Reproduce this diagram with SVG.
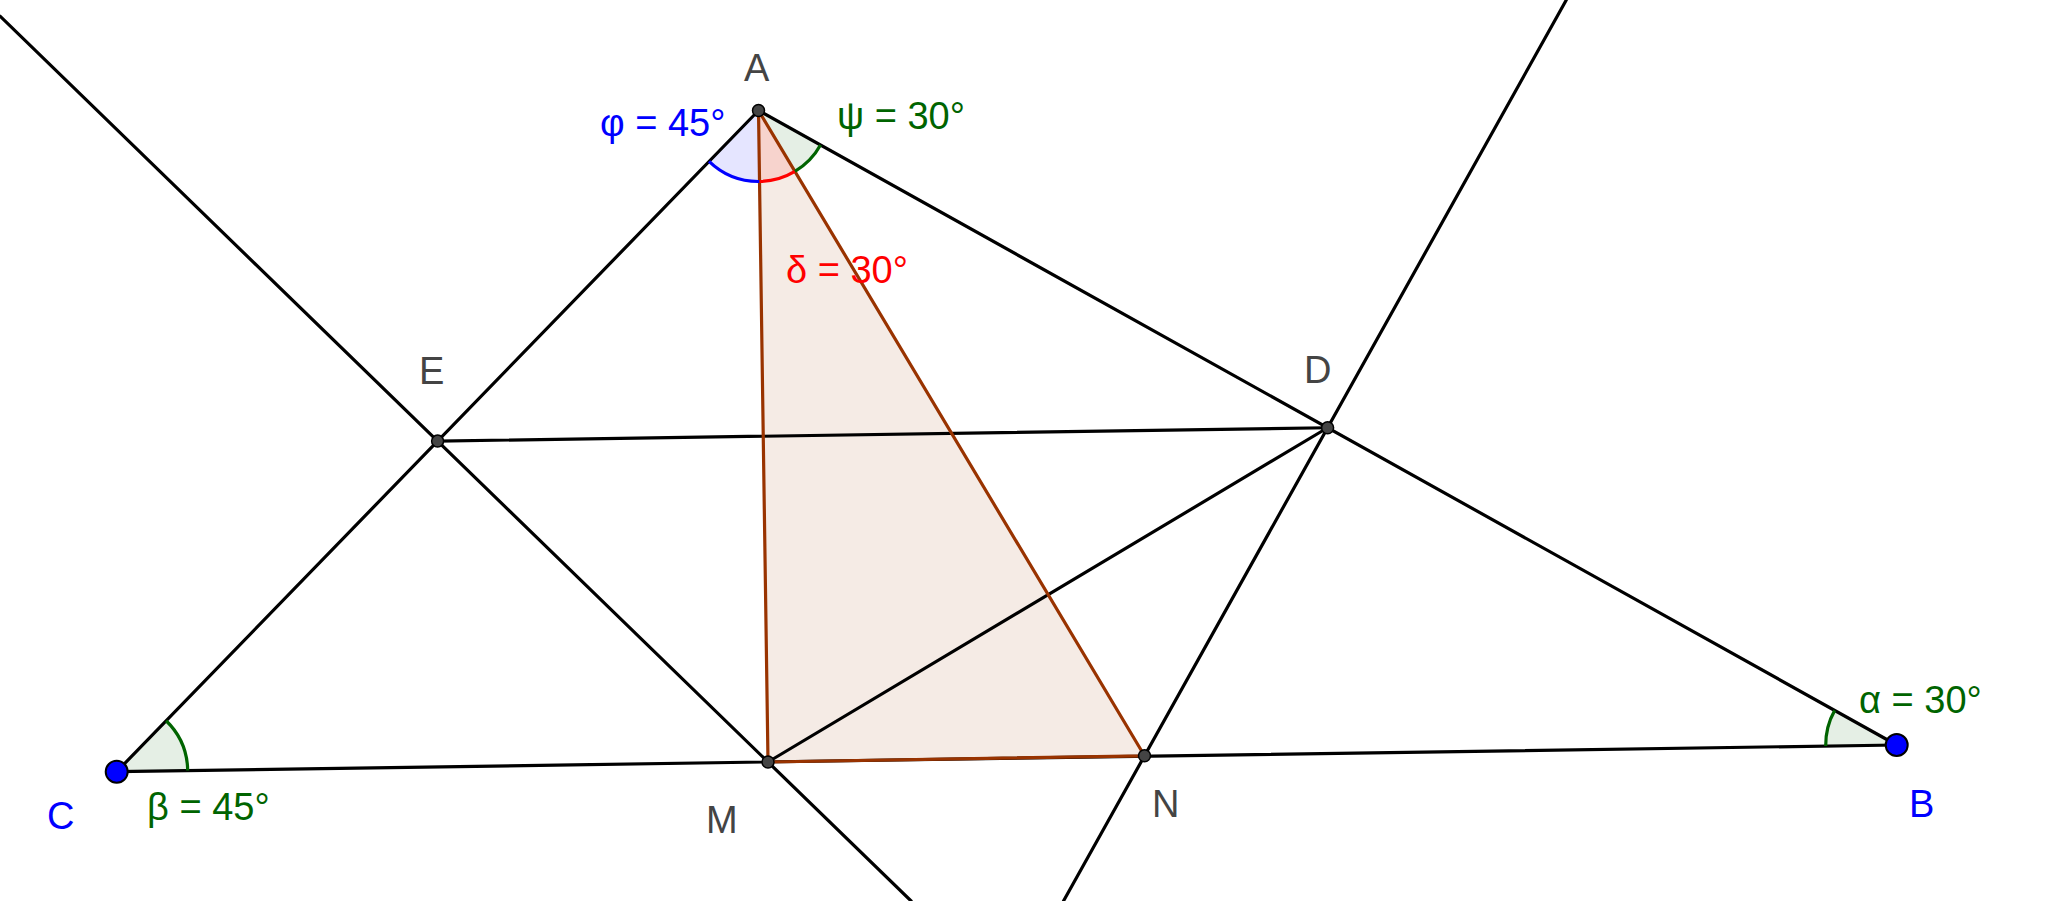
<svg xmlns="http://www.w3.org/2000/svg" width="2048" height="901" viewBox="0 0 2048 901">
<style>
.ln{stroke:#000;stroke-width:3.2;fill:none;stroke-linecap:round}
.tri{stroke:#993300;stroke-width:3.2;fill:none;stroke-linejoin:round}
.pt{fill:#444;stroke:#000;stroke-width:1.5}
.fp{fill:#0000ff;stroke:#000;stroke-width:2}
.lbl{font-family:"Liberation Sans",Arial,sans-serif;font-size:38px;fill:#444}
.blue{fill:#0000ff}
.green{fill:#006400}
.red{fill:#ff0000}
</style>
<rect width="2048" height="901" fill="#fff"/>
<g id="triangle-AMN-fill">
<polygon points="758.5,110.5 768,762 1144.5,755.8" fill="#f5ebe5"/>
</g>
<g id="angle-fills">
<path d="M758.5,110.5 L709.05,161.44 A71,71 0 0 0 759.54,181.49 Z" fill="#e5e5ff"/>
<path d="M758.5,110.5 L759.54,181.49 A71,71 0 0 0 794.95,171.43 Z" fill="#f7d3cd"/>
<path d="M758.5,110.5 L794.95,171.43 A71,71 0 0 0 820.52,145.07 Z" fill="#e5efe5"/>
<path d="M116.7,771.7 L187.7,770.6 A71,71 0 0 0 166.15,720.75 Z" fill="#e5efe5"/>
<path d="M1896.7,745 L1825.7,746.1 A71,71 0 0 1 1834.7,710.4 Z" fill="#e5efe5"/>
</g>
<g id="connectors">
<line class="ln" x1="0" y1="16.1" x2="911.1" y2="901"/>
<line class="ln" x1="1566.3" y1="0" x2="1063.5" y2="901"/>
<line class="ln" x1="758.5" y1="110.5" x2="116.7" y2="771.7"/>
<line class="ln" x1="758.5" y1="110.5" x2="1896.7" y2="745"/>
<line class="ln" x1="116.7" y1="771.7" x2="1896.7" y2="745"/>
<line class="ln" x1="437.6" y1="441.1" x2="1327.6" y2="427.75"/>
<line class="ln" x1="1327.6" y1="427.75" x2="768" y2="762"/>
</g>
<g id="triangle-AMN">
<polygon class="tri" points="758.5,110.5 768,762 1144.5,755.8"/>
</g>
<g id="angle-arcs" fill="none" stroke-width="3.2">
<path d="M709.05,161.44 A71,71 0 0 0 759.54,181.49" stroke="#0000ff"/>
<path d="M759.54,181.49 A71,71 0 0 0 794.95,171.43" stroke="#ff0000"/>
<path d="M794.95,171.43 A71,71 0 0 0 820.52,145.07" stroke="#006400"/>
<path d="M187.7,770.6 A71,71 0 0 0 166.15,720.75" stroke="#006400"/>
<path d="M1825.7,746.1 A71,71 0 0 1 1834.7,710.4" stroke="#006400"/>
</g>
<g id="node-A"><circle class="pt" cx="758.5" cy="110.5" r="6"/><text class="lbl" x="744" y="81">A</text></g>
<g id="node-E"><circle class="pt" cx="437.6" cy="441.1" r="6"/><text class="lbl" x="419" y="384">E</text></g>
<g id="node-D"><circle class="pt" cx="1327.6" cy="427.75" r="6"/><text class="lbl" x="1304" y="383">D</text></g>
<g id="node-M"><circle class="pt" cx="768" cy="762" r="6"/><text class="lbl" x="706" y="833">M</text></g>
<g id="node-N"><circle class="pt" cx="1144.5" cy="755.8" r="6"/><text class="lbl" x="1152" y="817">N</text></g>
<g id="node-C"><circle class="fp" cx="116.7" cy="771.7" r="11"/><text class="lbl blue" x="47" y="829">C</text></g>
<g id="node-B"><circle class="fp" cx="1896.7" cy="745" r="11"/><text class="lbl blue" x="1909" y="817">B</text></g>
<g id="angle-labels">
<text class="lbl blue" x="600" y="136">φ = 45°</text>
<text class="lbl green" x="837" y="129">ψ = 30°</text>
<text class="lbl red" x="786" y="283">δ = 30°</text>
<text class="lbl green" x="147" y="820">β = 45°</text>
<text class="lbl green" x="1859" y="713">α = 30°</text>
</g>
</svg>
